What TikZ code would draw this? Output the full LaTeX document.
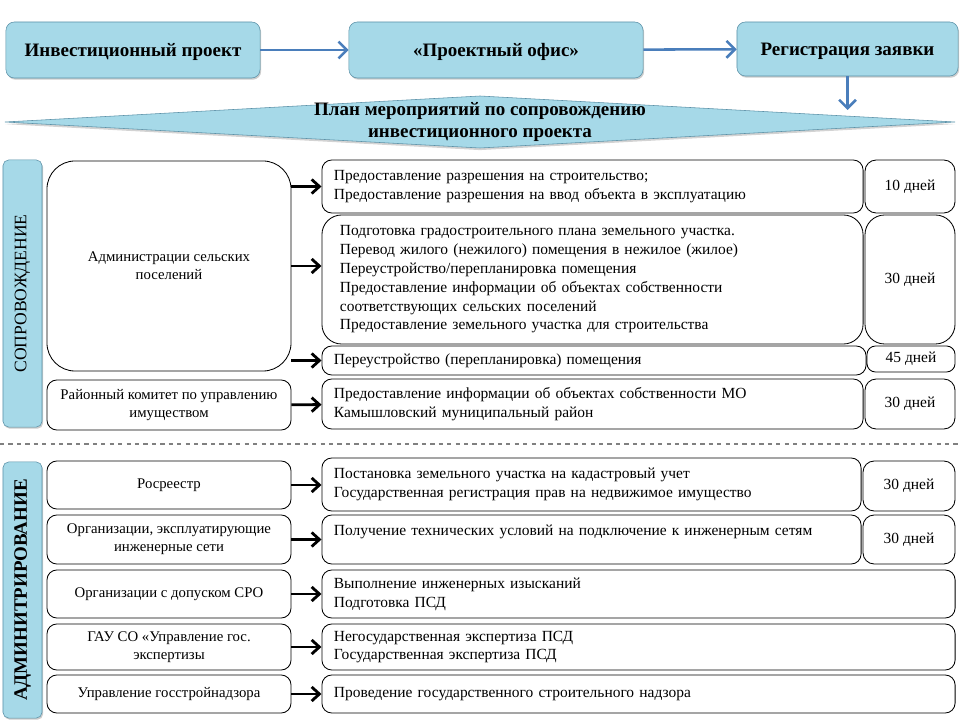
\documentclass[tikz,border=0pt]{standalone}
\usepackage{fontspec}
\setmainfont{Liberation Serif}
\usetikzlibrary{arrows.meta,shadows}
\definecolor{boxblue}{RGB}{166,217,232}
\definecolor{edgeblue}{RGB}{92,146,168}
\definecolor{arrowblue}{RGB}{74,126,187}

\begin{document}
\begin{tikzpicture}[x=0.025cm,y=-0.025cm,
    topbox/.style={draw=edgeblue,fill=boxblue,rounded corners=6pt,inner sep=0pt,
      text height=11pt,text depth=2pt,
      drop shadow={opacity=.4,shadow xshift=.8pt,shadow yshift=-1.2pt},
      font=\fontsize{13.5}{16}\selectfont\bfseries},
    sidebar/.style={draw=edgeblue,fill=boxblue,rounded corners=4pt,rotate=90,inner sep=0pt,
      drop shadow={opacity=.4,shadow xshift=.8pt,shadow yshift=-1.2pt}},
    orgbox/.style={draw,line width=.6pt,rounded corners=7pt,align=center,inner sep=0pt,
      font=\fontsize{10.5}{13}\selectfont},
    taskbox/.style={draw,line width=.6pt,rounded corners=7pt,align=left,inner xsep=.3cm,inner ysep=0pt,
      font=\fontsize{11}{13.4}\selectfont},
    daybox/.style={draw,line width=.6pt,rounded corners=8pt,inner sep=0pt,
      font=\fontsize{11}{13}\selectfont},
    flow/.style={draw=arrowblue,line width=1.8pt,-{Straight Barb[length=6pt,width=12pt]}},
    feed/.style={line width=2pt,-{Straight Barb[length=5.5pt,width=10pt]}}]
  \useasboundingbox (0,0) rectangle (960,720);

  \node (proj) at (133,50) [topbox,minimum width=6.35cm,minimum height=1.4cm] {Инвестиционный проект};
  \node (office) at (496,50) [topbox,minimum width=7.35cm,minimum height=1.4cm] {«Проектный офис»};
  \node (reg) at (847.5,49) [topbox,minimum width=5.525cm,minimum height=1.35cm] {Регистрация заявки};
  \draw[flow] (proj) -- (office);
  \draw[flow] (office) -- (reg);

  \draw[draw=edgeblue,fill=boxblue,drop shadow={opacity=.35,shadow xshift=0pt,shadow yshift=-1.5pt}]
    (5,122) -- (480,96) -- (955,122) -- (480,148) -- cycle;
  \node (plan) at (480,122) [align=center,font=\fontsize{13.5}{15.5}\selectfont\bfseries]
    {План мероприятий по сопровождению\\инвестиционного проекта};
  \coordinate (planin) at (847.5,110);
  \draw[flow] (reg.south) -- (planin);

  \node (sop) at (22.5,293.5) [sidebar,minimum width=6.675cm,minimum height=.975cm,
    font=\fontsize{12.5}{14}\selectfont] {СОПРОВОЖДЕНИЕ};
  \node (adm) at (22.5,590) [sidebar,minimum width=6.4cm,minimum height=.975cm,
    font=\fontsize{13.5}{15}\selectfont\bfseries] {АДМИНИТРИРОВАНИЕ};

  \node (admin) at (169,266) [orgbox,rounded corners=20pt,minimum width=6.1cm,minimum height=5.25cm]
    {Администрации сельских\\поселений};
  \node (raion) at (169,405) [orgbox,minimum width=6.1cm,minimum height=1.25cm]
    {Районный комитет по управлению\\имуществом};

  \node (r1) at (592.5,186.5) [taskbox,text width=12.925cm,minimum height=1.325cm]
    {Предоставление разрешения  на строительство;\\Предоставление разрешения  на ввод объекта в эксплуатацию};
  \node (r2) at (592.5,279.5) [taskbox,rounded corners=14pt,inner xsep=.45cm,text width=12.625cm,minimum height=3.225cm]
    {Подготовка градостроительного плана земельного участка.\\
     Перевод жилого (нежилого) помещения в нежилое (жилое)\\
     Переустройство/перепланировка помещения\\
     Предоставление информации об объектах  собственности\\
     соответствующих  сельских  поселений\\
     Предоставление земельного участка для строительства};
  \node (r3) at (594,360.5) [taskbox,text width=13cm,minimum height=.725cm]
    {Переустройство  (перепланировка) помещения};
  \node (r4) at (592.5,404) [taskbox,text width=12.925cm,minimum height=1.25cm]
    {Предоставление информации об объектах  собственности МО\\Камышловский муниципальный район};

  \node (d1) at (910,186.5) [daybox,minimum width=2.25cm,minimum height=1.325cm] {10 дней};
  \node (d2) at (910,279.5) [daybox,rounded corners=14pt,minimum width=2.25cm,minimum height=3.225cm] {30 дней};
  \node (d3) at (911,359) [daybox,rounded corners=6pt,minimum width=2.2cm,minimum height=.65cm] {45 дней};
  \node (d4) at (910,404) [daybox,minimum width=2.25cm,minimum height=1.25cm] {30 дней};

  \draw[feed] (admin.east |- r1.west) -- (r1.west);
  \draw[feed] (admin.east) -- (r2.west |- admin.east);
  \draw[feed] (admin.east |- r3.west) -- (r3.west);
  \draw[feed] (raion) -- (r4);

  \draw[gray,dashed,line width=.8pt] (0,444) -- (960,444);

  \node (ros) at (169,485) [orgbox,minimum width=6.1cm,minimum height=1.2cm] {Росреестр};
  \node (org) at (169,539.5) [orgbox,minimum width=6.1cm,minimum height=1.225cm]
    {Организации,  эксплуатирующие\\инженерные  сети};
  \node (sro) at (169,594) [orgbox,minimum width=6.1cm,minimum height=1.2cm] {Организации  с допуском СРО};
  \node (gau) at (169,647) [orgbox,minimum width=6.1cm,minimum height=1.15cm]
    {ГАУ СО «Управление гос.\\экспертизы};
  \node (gsn) at (169,694) [orgbox,minimum width=6.1cm,minimum height=.95cm] {Управление госстройнадзора};

  \node (b1) at (591.5,484.5) [taskbox,text width=12.875cm,minimum height=1.325cm]
    {Постановка земельного участка на кадастровый учет\\Государственная регистрация прав на недвижимое имущество};
  \node (b2) at (591.5,539.5) [taskbox,text width=12.875cm,minimum height=1.225cm]
    {Получение технических условий на подключение к инженерным сетям\\\mbox{}};
  \node (b3) at (638.5,594) [taskbox,text width=15.225cm,minimum height=1.2cm]
    {Выполнение инженерных изысканий\\Подготовка ПСД};
  \node (b4) at (638.5,647) [taskbox,text width=15.225cm,minimum height=1.15cm]
    {Негосударственная  экспертиза ПСД\\Государственная  экспертиза ПСД};
  \node (b5) at (638.5,694) [taskbox,text width=15.225cm,minimum height=.95cm]
    {Проведение государственного строительного надзора};

  \node (e1) at (909,486) [daybox,minimum width=2.3cm,minimum height=1.25cm] {30 дней};
  \node (e2) at (909,539.5) [daybox,minimum width=2.3cm,minimum height=1.225cm] {30 дней};

  \draw[feed] (ros) -- (ros -| b1.west);
  \draw[feed] (org) -- (org -| b2.west);
  \draw[feed] (sro) -- (sro -| b3.west);
  \draw[feed] (gau) -- (gau -| b4.west);
  \draw[feed] (gsn) -- (gsn -| b5.west);
\end{tikzpicture}
\end{document}
